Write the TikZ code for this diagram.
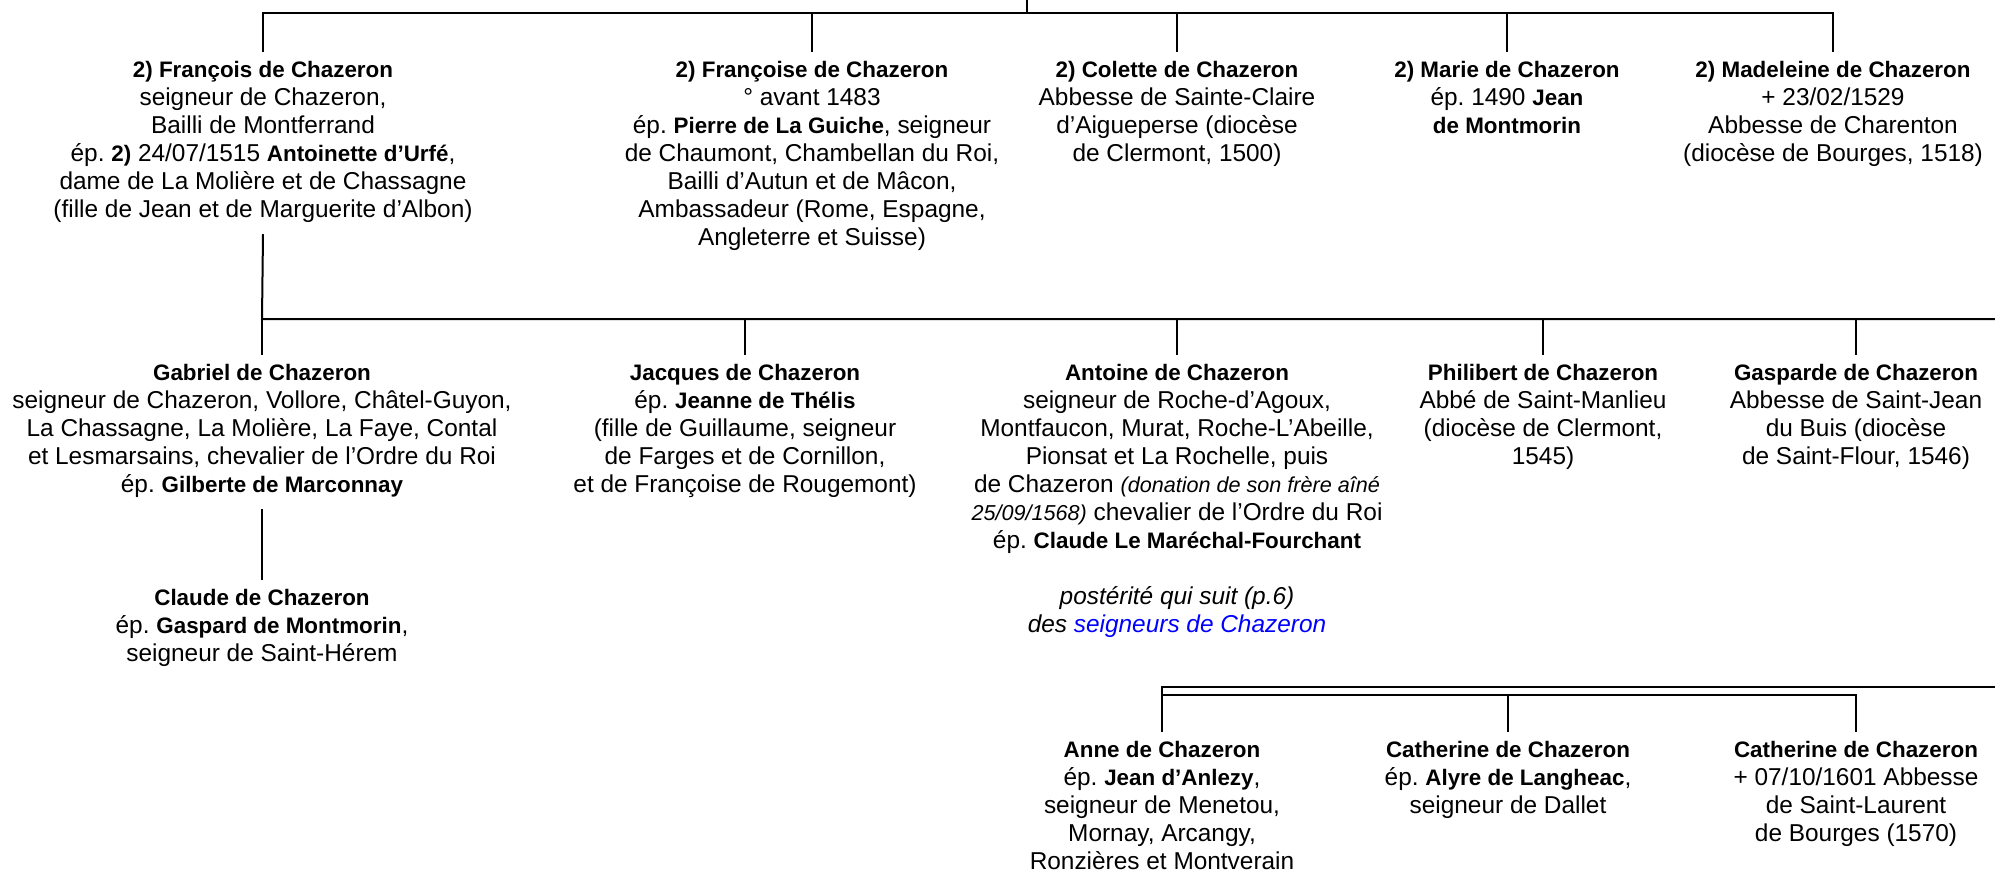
\documentclass[tikz,border=0pt]{standalone}
\usepackage{fontspec}
\setmainfont{Liberation Sans}
\usepackage{xcolor}
\usetikzlibrary{positioning,calc}
\definecolor{linkblue}{RGB}{0,0,255}
\newcommand\smallnote{\fontsize{10.8}{14}\selectfont\itshape}
\newcommand\nom[1]{{\fontsize{11.2}{14}\selectfont\bfseries #1}}

\begin{document}
\frenchspacing
\begin{tikzpicture}[
  x=0.5pt, y=-0.5pt,
  pers/.style={align=center, anchor=north, inner xsep=0pt, inner ysep=4.2pt,
    font=\fontsize{12.2}{14}\selectfont,
    execute at begin node=\strut, execute at end node=\strut},
  lnk/.style={line width=1pt}
]
  \useasboundingbox (0,0) rectangle (1995,880);

  % first row: children of the second marriage
  \node[pers] (fran) at (263,52) {\nom{2) François de Chazeron}\\
    seigneur de Chazeron,\\ Bailli de Montferrand\\
    ép. \nom{2)} 24/07/1515 \nom{Antoinette d’Urfé},\\
    dame de La Molière et de Chassagne\\
    (fille de Jean et de Marguerite d’Albon)};
  \node[pers] (frse) at (812,52) {\nom{2) Françoise de Chazeron}\\
    ° avant 1483\\ ép. \nom{Pierre de La Guiche}, seigneur\\
    de Chaumont, Chambellan du Roi,\\ Bailli d’Autun et de Mâcon,\\
    Ambassadeur (Rome, Espagne,\\ Angleterre et Suisse)};
  \node[pers] (cole) at (1177,52) {\nom{2) Colette de Chazeron}\\
    Abbesse de Sainte-Claire\\ d’Aigueperse (diocèse\\ de Clermont, 1500)};
  \node[pers] (mari) at (1507,52) {\nom{2) Marie de Chazeron}\\
    ép. 1490 \nom{Jean}\\ \nom{de Montmorin}};
  \node[pers] (made) at (1833,52) {\nom{2) Madeleine de Chazeron}\\
    + 23/02/1529\\ Abbesse de Charenton\\ (diocèse de Bourges, 1518)};

  % second row: children of François
  \node[pers] (gabr) at (262,355) {\nom{Gabriel de Chazeron}\\
    seigneur de Chazeron, Vollore, Châtel-Guyon,\\
    La Chassagne, La Molière, La Faye, Contal\\
    et Lesmarsains, chevalier de l’Ordre du Roi\\
    ép. \nom{Gilberte de Marconnay}};
  \node[pers] (jacq) at (745,355) {\nom{Jacques de Chazeron}\\
    ép. \nom{Jeanne de Thélis}\\ (fille de Guillaume, seigneur\\
    de Farges et de Cornillon,\\ et de Françoise de Rougemont)};
  \node[pers] (anto) at (1177,355) {\nom{Antoine de Chazeron}\\
    seigneur de Roche-d’Agoux,\\ Montfaucon, Murat, Roche-L’Abeille,\\
    Pionsat et La Rochelle, puis\\
    de Chazeron {\smallnote (donation de son frère aîné}\\
    {\smallnote 25/09/1568)} chevalier de l’Ordre du Roi\\
    ép. \nom{Claude Le Maréchal-Fourchant}\\[14pt]
    \textit{postérité qui suit (p.6)}\\
    \textit{des \textcolor{linkblue}{seigneurs de Chazeron}}};
  \node[pers] (phil) at (1543,355) {\nom{Philibert de Chazeron}\\
    Abbé de Saint-Manlieu\\ (diocèse de Clermont,\\ 1545)};
  \node[pers] (gasp) at (1856,355) {\nom{Gasparde de Chazeron}\\
    Abbesse de Saint-Jean\\ du Buis (diocèse\\ de Saint-Flour, 1546)};
  \node[pers] (clau) at (262,580) {\nom{Claude de Chazeron}\\
    ép. \nom{Gaspard de Montmorin},\\ seigneur de Saint-Hérem};

  % third row: children of Antoine
  \node[pers] (anne) at (1162,732) {\nom{Anne de Chazeron}\\
    ép. \nom{Jean d’Anlezy},\\ seigneur de Menetou,\\
    Mornay, Arcangy,\\ Ronzières et Montverain};
  \node[pers] (cat1) at (1508,732) {\nom{Catherine de Chazeron}\\
    ép. \nom{Alyre de Langheac},\\ seigneur de Dallet};
  \node[pers] (cat2) at (1856,732) {\nom{Catherine de Chazeron}\\
    + 07/10/1601 Abbesse\\ de Saint-Laurent\\ de Bourges (1570)};

  % bars and drops
  \coordinate (up) at (1027,0);
  \coordinate (bar1) at (1027,13);
  \coordinate (bar2) at (262,319);
  \coordinate (end2) at (1995,319);
  \coordinate (bar3) at (1162,687);
  \coordinate (end3) at (1995,687);
  \coordinate (bar4) at (1162,695);

  \draw[lnk] (up) -- (bar1);
  \draw[lnk] (fran.north) |- (bar1) -| (made.north);
  \foreach \c in {frse,cole,mari}
    \draw[lnk] (bar1 -| \c.north) -- (\c.north);

  \draw[lnk] (fran.south) -- (bar2) -- (end2);
  \foreach \c in {gabr,jacq,anto,phil,gasp}
    \draw[lnk] (bar2 -| \c.north) -- (\c.north);
  \draw[lnk] (gabr.south) -- (clau.north);

  \draw[lnk] (anne.north) -- (bar3) -- (end3);
  \draw[lnk] (bar4) -| (cat2.north);
  \draw[lnk] (bar4 -| cat1.north) -- (cat1.north);
\end{tikzpicture}
\end{document}
